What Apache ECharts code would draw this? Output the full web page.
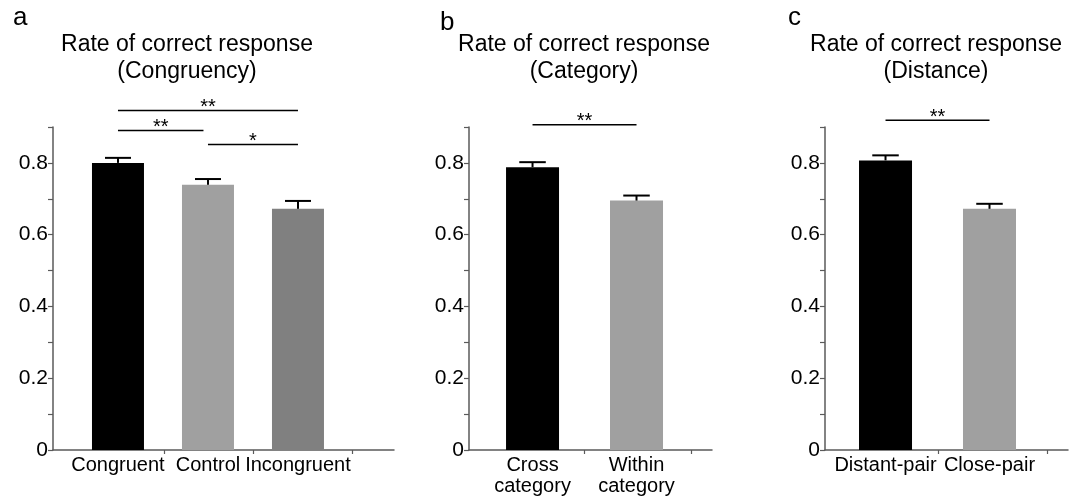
<!DOCTYPE html>
<html><head><meta charset="utf-8">
<script src="https://cdn.jsdelivr.net/npm/echarts@6/dist/echarts.min.js"></script>
<style>html,body{margin:0;padding:0;background:#fff}#c{width:1080px;height:500px}</style>
</head><body><div id="c"></div>
<script>
// ---- data ----
const catsA = ['Congruent', 'Control', 'Incongruent'];
const meanA = [0.800, 0.739, 0.672];
const errA  = [0.014, 0.016, 0.022];
const colA  = ['#000000', '#a0a0a0', '#808080'];

const catsB = ['Cross\ncategory', 'Within\ncategory'];
const meanB = [0.788, 0.695];
const errB  = [0.014, 0.014];
const colB  = ['#000000', '#a0a0a0'];

const catsC = ['Distant-pair', 'Close-pair'];
const meanC = [0.807, 0.672];
const errC  = [0.014, 0.014];
const colC  = ['#000000', '#a0a0a0'];

// significance brackets: [from, to, level, label]
const sigA = [[0, 2, 0.946, '**'], [0, 0.95, 0.890, '**'], [1, 2, 0.851, '*']];
const sigB = [[0, 1, 0.906, '**']];
const sigC = [[0, 1, 0.919, '**']];

const yLabels = [0, 0.2, 0.4, 0.6, 0.8];
const yTicks  = [0, 0.1, 0.2, 0.3, 0.4, 0.5, 0.6, 0.7, 0.8, 0.9];

const titles = ['Rate of correct response\n(Congruency)', 'Rate of correct response\n(Category)', 'Rate of correct response\n(Distance)'];
const letters = ['a', 'b', 'c'];

// ---- layout ----
const FONT = '"Liberation Sans", Arial, Helvetica, sans-serif';
const panels = [
  {cats: catsA, mean: meanA, err: errA, col: colA, sig: sigA, left: 53, width: 341, min: -0.722, max: 3.067, ticks: [0.51, 1.5, 2.6], barW: 52, titleX: 187, letterX: 13, letterY: 26},
  {cats: catsB, mean: meanB, err: errB, col: colB, sig: sigB, left: 469, width: 243, min: -0.611, max: 1.726, ticks: [0.5, 1.53], barW: 53, titleX: 584, letterX: 440, letterY: 31},
  {cats: catsC, mean: meanC, err: errC, col: colC, sig: sigC, left: 825, width: 243, min: -0.582, max: 1.755, ticks: [0.505, 1.553], barW: 53, titleX: 936, letterX: 788, letterY: 26}
];

const grid = [], xAxis = [], yAxis = [], series = [], graphic = [];
const axisCol = '#5a5a5a';

panels.forEach((p, i) => {
  grid.push({left: p.left, top: 127, width: p.width, height: 323});
  const idx = p.cats.map((_, k) => k);
  xAxis.push({
    type: 'value', gridIndex: i, min: p.min, max: p.max,
    splitLine: {show: false},
    axisLine: {show: true, onZero: false, lineStyle: {color: axisCol, width: 1.5}},
    axisTick: {show: true, length: 4, inside: false, customValues: p.ticks, lineStyle: {color: axisCol, width: 1.2}},
    axisLabel: {show: true, customValues: idx, margin: 5, color: '#000', fontFamily: FONT, fontSize: 20, lineHeight: 21,
      formatter: v => p.cats[Math.round(v)] || ''}
  });
  yAxis.push({
    type: 'value', gridIndex: i, min: 0, max: 0.9,
    splitLine: {show: false},
    axisLine: {show: true, onZero: false, lineStyle: {color: axisCol, width: 1.5}},
    axisTick: {show: true, length: 5, customValues: yTicks, lineStyle: {color: axisCol, width: 1.2}},
    axisLabel: {show: true, customValues: yLabels, margin: 5, color: '#000', fontFamily: FONT, fontSize: 21,
      formatter: v => (v === 0 ? '0' : v.toFixed(1))}
  });
  series.push({
    type: 'bar', xAxisIndex: i, yAxisIndex: i, barWidth: p.barW,
    data: p.mean.map((m, k) => ({value: [k, m], itemStyle: {color: p.col[k]}})),
    silent: true
  });
  series.push({
    type: 'custom', xAxisIndex: i, yAxisIndex: i, silent: true, clip: false, z: 5,
    data: p.mean.map((m, k) => [k, m, p.err[k]]),
    renderItem: (params, api) => {
      const x = api.value(0), m = api.value(1), e = api.value(2);
      const b = api.coord([x, m]), t = api.coord([x, m + e]);
      const hw = p.barW / 4;
      return {type: 'group', children: [
        {type: 'line', shape: {x1: b[0], y1: b[1], x2: t[0], y2: t[1]}, style: {stroke: '#000', lineWidth: 2}},
        {type: 'line', shape: {x1: t[0] - hw, y1: t[1], x2: t[0] + hw, y2: t[1]}, style: {stroke: '#000', lineWidth: 2}}
      ]};
    }
  });
  series.push({
    type: 'custom', xAxisIndex: i, yAxisIndex: i, silent: true, clip: false, z: 5,
    data: p.sig,
    renderItem: (params, api) => {
      const s = p.sig[params.dataIndex];
      const a = api.coord([s[0], s[2]]), b = api.coord([s[1], s[2]]);
      return {type: 'group', children: [
        {type: 'line', shape: {x1: a[0], y1: a[1], x2: b[0], y2: b[1]}, style: {stroke: '#000', lineWidth: 1.5}},
        {type: 'text', style: {text: s[3], x: (a[0] + b[0]) / 2, y: a[1] - 3, textAlign: 'center', textVerticalAlign: 'middle', font: '20px ' + FONT, fill: '#000'}}
      ]};
    }
  });
  graphic.push({type: 'text', x: p.titleX, y: 31, style: {text: titles[i], textAlign: 'center', textVerticalAlign: 'top', font: '23px ' + FONT, lineHeight: 27, fill: '#000'}});
  graphic.push({type: 'text', x: p.letterX, y: p.letterY - 21, style: {text: letters[i], textAlign: 'left', textVerticalAlign: 'top', font: '26px ' + FONT, fill: '#000'}});
});

const chart = echarts.init(document.getElementById('c'), null, {renderer: 'canvas'});
chart.setOption({animation: false, backgroundColor: '#fff', grid, xAxis, yAxis, series, graphic});
</script>
</body></html>
